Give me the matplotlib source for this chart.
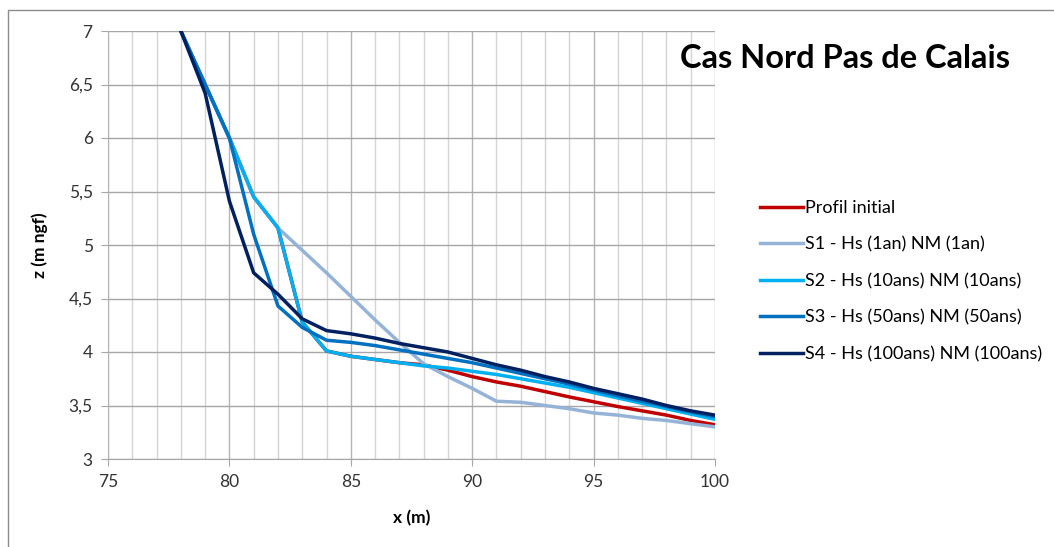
import matplotlib
matplotlib.use('Agg')
import matplotlib.pyplot as plt
from matplotlib.patches import Rectangle
from matplotlib.ticker import MultipleLocator, FuncFormatter

plt.rcParams['font.family'] = ['Lato', 'DejaVu Sans']

# abscisses du profil (m)
x = [78, 79, 80, 81, 82, 83, 84, 85, 86, 87, 88, 89,
     90, 91, 92, 93, 94, 95, 96, 97, 98, 99, 100]

# cotes z (m ngf) par scenario
z_init = [7.0, 6.5, 6.0, 5.45, 5.16, 4.28, 4.01, 3.96, 3.93, 3.90, 3.88, 3.83,
          3.77, 3.72, 3.68, 3.63, 3.58, 3.535, 3.49, 3.45, 3.41, 3.36, 3.32]
z_s1 = [7.0, 6.5, 6.0, 5.45, 5.16, 4.95, 4.74, 4.52, 4.30, 4.09, 3.89, 3.77,
        3.66, 3.54, 3.53, 3.50, 3.47, 3.43, 3.41, 3.38, 3.36, 3.33, 3.30]
z_s2 = [7.0, 6.5, 6.0, 5.45, 5.16, 4.28, 4.01, 3.96, 3.93, 3.90, 3.87, 3.85,
        3.82, 3.79, 3.75, 3.71, 3.67, 3.62, 3.57, 3.52, 3.47, 3.42, 3.37]
z_s3 = [7.0, 6.5, 6.0, 5.10, 4.43, 4.23, 4.11, 4.09, 4.06, 4.02, 3.98, 3.94,
        3.90, 3.85, 3.80, 3.75, 3.70, 3.645, 3.59, 3.54, 3.49, 3.44, 3.395]
z_s4 = [7.0, 6.42, 5.41, 4.74, 4.54, 4.31, 4.20, 4.17, 4.13, 4.08, 4.04, 4.00,
        3.94, 3.88, 3.83, 3.77, 3.72, 3.66, 3.61, 3.56, 3.50, 3.45, 3.41]

labels = ['Profil initial',
          'S1 - Hs (1an) NM (1an)',
          'S2 - Hs (10ans) NM (10ans)',
          'S3 - Hs (50ans) NM (50ans)',
          'S4 - Hs (100ans) NM (100ans)']
colors = ['#C00000', '#95B3D7', '#00B0F0', '#0070C0', '#002060']

fig = plt.figure(figsize=(10.54, 5.47), dpi=100)
ax = fig.add_axes([108 / 1054, 88 / 547, 607 / 1054, 428 / 547])

for z, lab, c in zip([z_init, z_s1, z_s2, z_s3, z_s4], labels, colors):
    ax.plot(x, z, color=c, lw=2.5, label=lab, solid_joinstyle='miter')

ax.set_xlim(75, 100)
ax.set_ylim(3, 7)
ax.xaxis.set_major_locator(MultipleLocator(5))
ax.xaxis.set_minor_locator(MultipleLocator(1))
ax.yaxis.set_major_locator(MultipleLocator(0.5))
ax.yaxis.set_major_formatter(FuncFormatter(lambda v, p: ('%g' % v).replace('.', ',')))

ax.grid(which='minor', axis='x', color='#d4d4d4', lw=1)
ax.grid(which='major', axis='x', color='#b4b4b4', lw=1)
ax.grid(which='major', axis='y', color='#a6a6a6', lw=1)
ax.set_axisbelow(True)

for s in ['top', 'right']:
    ax.spines[s].set_visible(False)
ax.spines['left'].set_color('#b4b4b4')
ax.spines['bottom'].set_color('#a6a6a6')
ax.tick_params(which='major', length=5, color='#a6a6a6', labelsize=12.5,
               labelcolor='#333333', pad=6)
ax.tick_params(which='minor', length=0)

ax.set_xlabel('x (m)', fontsize=12.5, fontweight='bold', labelpad=14)
ax.set_ylabel('z (m ngf)', fontsize=12.5, fontweight='bold', labelpad=15)

fig.text(845 / 1054, 1 - 58 / 547, 'Cas Nord Pas de Calais', fontsize=23.5,
         fontweight='bold', ha='center', va='center')

ax.legend(loc='upper left', bbox_to_anchor=(751 / 1054, 1 - 191 / 547),
          bbox_transform=fig.transFigure, frameon=False, fontsize=13,
          handlelength=2.4, handletextpad=0.1, labelspacing=1.13,
          borderpad=0)

# cadre du graphique
fig.add_artist(Rectangle((7.5 / 1054, -0.1), 1.2, 1.1 - 9.5 / 547,
                         transform=fig.transFigure, fill=False,
                         edgecolor='#8c8c8c', lw=1))

fig.savefig('out.png', dpi=100)
